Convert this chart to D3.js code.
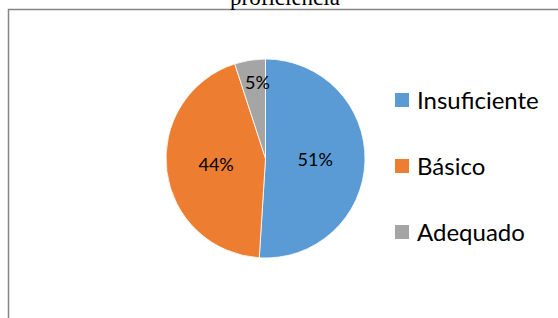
<!DOCTYPE html>
<html>
<head>
<meta charset="utf-8">
<script src="https://cdn.jsdelivr.net/npm/d3@7"></script>
<style>
  body { margin: 0; background: #fff; }
  svg { display: block; }
</style>
</head>
<body>
<div id="graphic"></div>
<script>
// data
var categories = ["Insuficiente", "Básico", "Adequado"];
var values = [51, 44, 5];
var colors = ["#5B9BD5", "#ED7D31", "#A5A5A5"];
var titleText = "proficiência";

var w = 558, h = 318;
var cx = 265.5, cy = 158.5, r = 99.5;

var svg = d3.select("#graphic")
    .append("svg")
    .attr("width", w)
    .attr("height", h);

// chart frame (runs off the right and bottom edges)
svg.append("rect")
    .attr("x", 8.5)
    .attr("y", 9.5)
    .attr("width", 600)
    .attr("height", 400)
    .attr("fill", "none")
    .attr("stroke", "#868686")
    .attr("stroke-width", 1.5);

// title, mostly cut off at the top like the reference
svg.append("text")
    .attr("x", 285)
    .attr("y", 5)
    .attr("text-anchor", "middle")
    .attr("font-family", "Liberation Serif, Times New Roman, serif")
    .attr("font-size", 23)
    .attr("fill", "#000")
    .text(titleText);

var data = categories.map(function(c, i){ return { name: c, value: values[i], color: colors[i] }; });

var pie = d3.pie()
    .sort(null)
    .value(function(d){ return d.value; });

var arc = d3.arc()
    .innerRadius(0)
    .outerRadius(r);

var g = svg.append("g")
    .attr("transform", "translate(" + cx + "," + cy + ")");

var arcs = pie(data);

g.selectAll("path")
    .data(arcs)
    .enter()
    .append("path")
    .attr("d", arc)
    .attr("fill", function(d){ return d.data.color; })
    .attr("stroke", "#fff")
    .attr("stroke-width", 0.8);

g.selectAll("text.lbl")
    .data(arcs)
    .enter()
    .append("text")
    .attr("class", "lbl")
    .attr("transform", function(d){
        var k = d.data.value < 10 ? 0.77 : 0.5;
        var a = (d.startAngle + d.endAngle) / 2;
        var x = Math.sin(a) * r * k;
        var y = -Math.cos(a) * r * k;
        if (d.data.value < 10) x += 4;
        return "translate(" + x + "," + y + ")";
    })
    .attr("text-anchor", "middle")
    .attr("dy", "0.35em")
    .attr("font-family", "Lato, Noto Sans, sans-serif")
    .attr("font-size", 18)
    .attr("fill", "#000")
    .text(function(d){ return d.data.value + "%"; });

// legend
var legendY = d3.scalePoint()
    .domain(categories)
    .range([100, 232]);

var lg = svg.append("g").selectAll("g")
    .data(data)
    .enter()
    .append("g")
    .attr("transform", function(d){ return "translate(395," + legendY(d.name) + ")"; });

lg.append("rect")
    .attr("x", 0)
    .attr("y", -7)
    .attr("width", 14)
    .attr("height", 14)
    .attr("fill", function(d){ return d.color; });

lg.append("text")
    .attr("x", 22)
    .attr("dy", "0.36em")
    .attr("font-family", "Lato, Noto Sans, sans-serif")
    .attr("font-size", 24)
    .attr("fill", "#000")
    .text(function(d){ return d.name; });
</script>
</body>
</html>
